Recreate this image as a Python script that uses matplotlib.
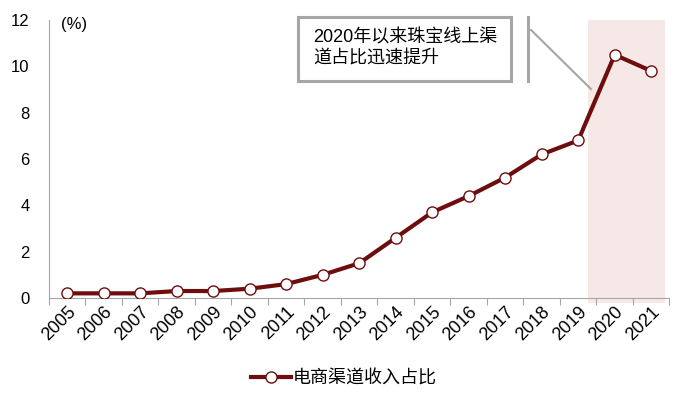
import matplotlib.pyplot as plt
from matplotlib.patches import Rectangle

plt.rcParams['font.family'] = ['Liberation Sans', 'Noto Sans CJK SC', 'DejaVu Sans']

years = ['2005', '2006', '2007', '2008', '2009', '2010', '2011', '2012', '2013',
         '2014', '2015', '2016', '2017', '2018', '2019', '2020', '2021']
share = [0.2, 0.2, 0.2, 0.3, 0.3, 0.4, 0.6, 1.0, 1.5,
         2.6, 3.7, 4.4, 5.2, 6.2, 6.8, 10.5, 9.8]
series_name = '电商渠道收入占比'
note = '2020年以来珠宝线上渠\n道占比迅速提升'

red = '#6e0d0d'
grey = '#a6a6a6'

fig = plt.figure(figsize=(6.8, 3.98), dpi=100)
ax = fig.add_axes([0.072, 0.2513, 0.9125, 0.6984])

x = list(range(len(years)))

# shaded 2020-2021 band
ax.add_patch(Rectangle((14.27, -0.2), 2.11, 12.2, facecolor='#f7e8e8',
                       edgecolor='none', zorder=0, clip_on=False))

ax.plot(x, share, color=red, lw=3.0, marker='o', ms=8, mfc='white',
        mec=red, mew=1.0, label=series_name, zorder=3)

ax.set_xlim(-0.5, 16.5)
ax.set_ylim(0, 12)
ax.set_yticks(range(0, 13, 2))
ax.tick_params(axis='y', length=0, labelsize=12, pad=14)

# tick marks between categories, labels on categories
ax.set_xticks([i - 0.5 for i in range(len(years) + 1)])
ax.set_xticklabels([])
ax.set_xticks(x, minor=True)
ax.set_xticklabels(years, minor=True, rotation=45, ha='right',
                   rotation_mode='anchor', fontsize=13)
ax.tick_params(axis='x', which='major', length=5, color=grey, direction='out')
ax.tick_params(axis='x', which='minor', length=0, pad=4)

for s in ['top', 'right']:
    ax.spines[s].set_visible(False)
ax.spines['left'].set_color(grey)
ax.spines['bottom'].set_color(grey)

ax.text(0.02, 0.985, '(%)', transform=ax.transAxes, fontsize=12, va='center', ha='left')

# callout box
fig.patches.append(Rectangle((0.4382, 0.7965), 0.3132, 0.1608, transform=fig.transFigure,
                             facecolor='white', edgecolor=grey, lw=2.2, zorder=5))
fig.text(0.460, 0.879, note, fontsize=13, va='center', ha='left', linespacing=1.35, zorder=6)
fig.add_artist(plt.Line2D([0.7765, 0.7765], [0.7965, 0.9573], color=grey, lw=2.2,
                          transform=fig.transFigure))
fig.add_artist(plt.Line2D([0.781, 0.869], [0.9246, 0.7764], color=grey, lw=1.5,
                          transform=fig.transFigure))

fig.legend(loc='center', bbox_to_anchor=(344 / 680, 0.048), frameon=False,
           fontsize=13, handlelength=2.2, handletextpad=0.1, borderpad=0)

fig.savefig('out.png', dpi=100)
